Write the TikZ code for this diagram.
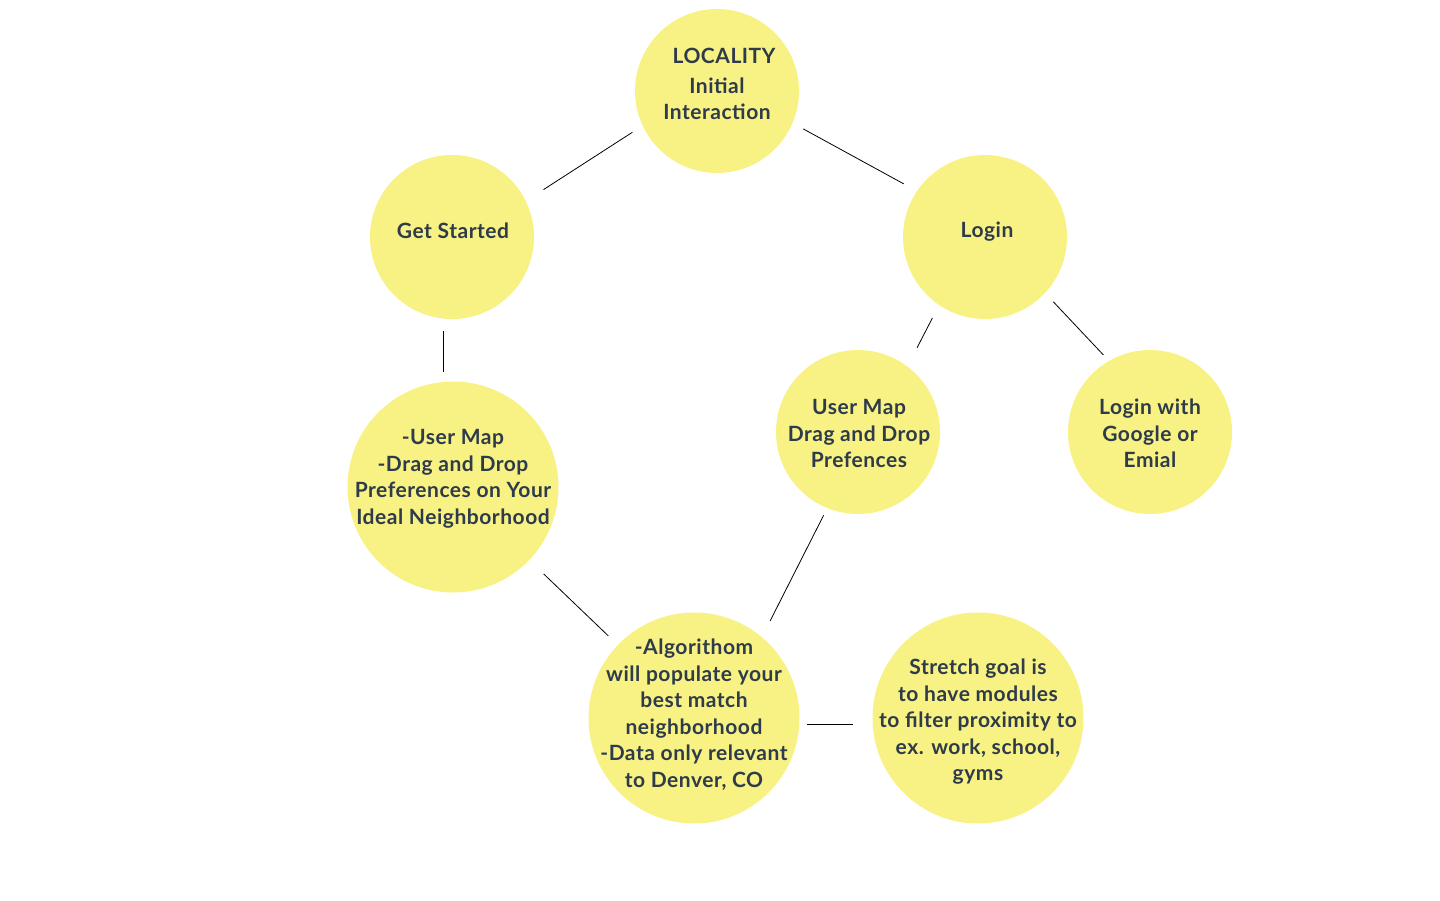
\documentclass[tikz,border=0pt]{standalone}
\usepackage{fontspec}
\setmainfont[LetterSpace=2.5]{Lato}
\definecolor{bubble}{HTML}{F8F184}
\definecolor{ink}{HTML}{2D3B4A}
\tikzset{
  bub/.style={circle, fill=bubble, draw=none, inner sep=0pt, minimum size=164pt},
  bigbub/.style={bub, minimum size=211pt},
  txt/.style={text=ink, font=\fontsize{21}{26.5}\selectfont\bfseries, align=center, inner sep=0pt},
  conn/.style={draw=black, line width=0.8pt}
}
\begin{document}
\begin{tikzpicture}[x=1pt,y=-1pt]
\useasboundingbox (0,0) rectangle (1440,900);
% circles
\node[bub] (loc) at (717,91) {};
\node[bub] (gs) at (452,237) {};
\node[bub] (login) at (985,237) {};
\node[bigbub] (uml) at (453,487) {};
\node[bub] (umr) at (858,432) {};
\node[bub] (lwg) at (1150,432) {};
\node[bigbub] (alg) at (694,718) {};
\node[bigbub] (sg) at (978,718) {};
% texts
\node[txt] (loctitle) at (724,55.5) {LOCALITY};
\node[txt] (loctext) at (717,99) {Initial\\Interaction};
\node[txt] (gstext) at (453,231) {Get Started};
\node[txt] (logintext) at (987,232) {Login};
\node[txt] (umltext) at (453,479) {-User Map\\-Drag and Drop\\Preferences on Your\\Ideal Neighborhood};
\node[txt] (umrtext) at (859,433.5) {User Map\\Drag and Drop\\Prefences};
\node[txt] (lwgtext) at (1150,433.5) {Login with\\Google or\\Emial};
\node[txt] (algtext) at (694,714.5) {-Algorithom\\will populate your\\best match\\neighborhood\\-Data only relevant\\to Denver, CO};
\node[txt] (sgtext) at (978,722) {Stretch goal is\\to have modules\\to filter proximity to\\ex. work, school,\\gyms};
% connectors
\draw[conn, shorten <=12pt, shorten >=21pt] (loc.205) -- (gs.26.6);
\draw[conn, shorten <=12pt, shorten >=15pt] (loc.-23.3) -- (login.146.3);
\draw[conn, shorten <=12pt, shorten >=9pt] ([xshift=-9pt]gs.south) -- ([xshift=-10pt]uml.north);
\draw[conn, shorten <=14.5pt, shorten >=21pt] (login.-124) -- (umr.53.7);
\draw[conn, shorten <=12pt, shorten >=8pt] (login.-43) -- (lwg.120);
\draw[conn, shorten <=8pt, shorten >=18pt] (umr.-112) -- (alg.50);
\draw[conn, shorten <=20pt, shorten >=13pt] (uml) -- (alg);
\draw[conn, shorten <=7pt, shorten >=19pt] ([yshift=-6pt]alg.east) -- ([yshift=-6pt]sg.west);
\end{tikzpicture}
\end{document}
